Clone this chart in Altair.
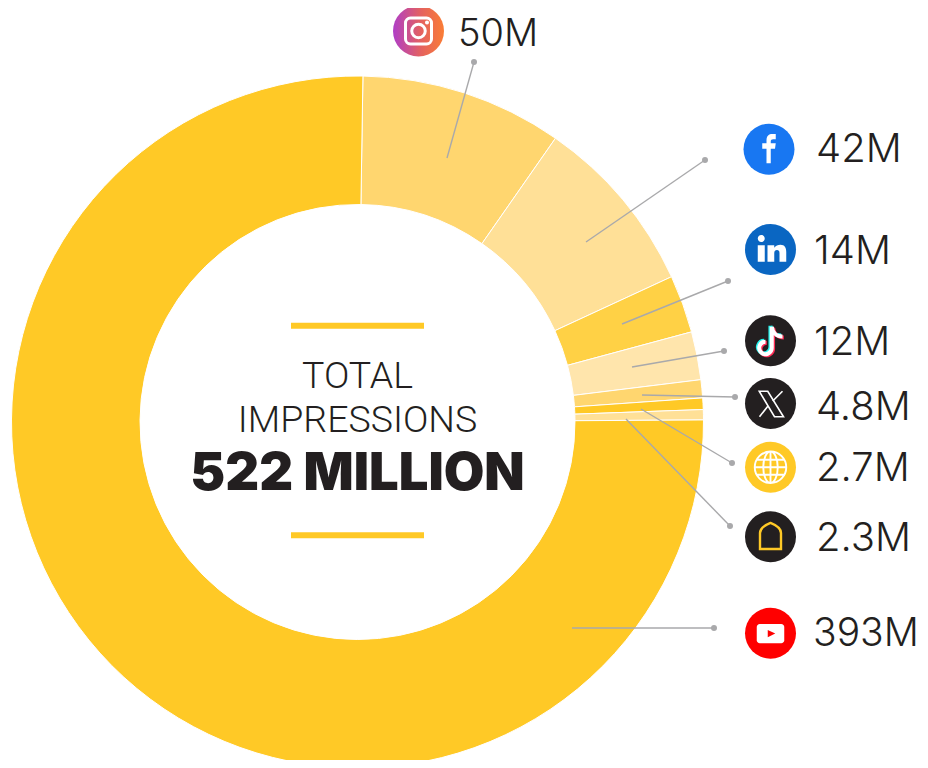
import math
import altair as alt
import pandas as pd

# ---- slices (clockwise from top) ----
platforms = ["Instagram", "Facebook", "LinkedIn", "TikTok", "X", "Web", "Other", "YouTube"]
arc_values = [49.3, 43.9, 14.1, 11.7, 4.4, 2.8, 2.5, 393.3]
slice_colors = ["#FFD66F", "#FFE097", "#FFD145", "#FFE5AC", "#FFD66F", "#FFC926", "#FFE097", "#FFC926"]
labels = ["50M", "42M", "14M", "12M", "4.8M", "2.7M", "2.3M", "393M"]

# ---- layout, in page pixels ----
center_x, center_y = 357.5, 422.0
outer_r, inner_r = 346, 217.5
start_deg = 0.9

line_x1 = [447, 586, 622, 632, 642, 641, 626, 572]
line_y1 = [158, 242, 324, 367, 395, 409, 419, 628]
line_x2 = [474, 705, 728, 724, 735, 732, 730, 714]
line_y2 = [62, 160, 281, 351, 397, 463, 526, 628]

label_x = [458, 816, 814, 814, 816, 816, 816, 813]
label_y = [46, 162, 264, 355, 420, 481, 551, 646]
label_size = [38, 40, 40, 40, 40, 40, 40, 39]

icon_x = [418.5, 769, 770.5, 770.5, 770.5, 770.5, 770.5, 770.5]
icon_y = [31, 149.3, 249.5, 340.7, 403.5, 467.3, 536.7, 633.3]
icon_colors = ["#D9597A", "#1877F2", "#0A66C2", "#231F20", "#231F20", "#FFC926", "#231F20", "#FF0000"]

center_lines = ["TOTAL", "IMPRESSIONS"]
center_line_y = [388, 432]
headline = "522 MILLION"
headline_y = 490
bar_y = [322.7, 532.3]
bar_x = (291, 424)

W, H = 912, 752
XS = alt.Scale(domain=[8, 920], range=[0, W], nice=False, zero=False)
YS = alt.Scale(domain=[8, 760], range=[0, H], nice=False, zero=False)
X = lambda f: alt.X(f, type="quantitative", scale=XS, axis=None)
Y = lambda f: alt.Y(f, type="quantitative", scale=YS, axis=None)

slices = pd.DataFrame({"i": range(8), "p": platforms, "v": arc_values, "c": slice_colors,
                       "cx": center_x, "cy": center_y})
s0 = math.radians(start_deg)
donut = alt.Chart(slices).mark_arc(outerRadius=outer_r, innerRadius=inner_r, stroke="#FFFFFF", strokeWidth=1).encode(
    theta=alt.Theta("v:Q", stack=True, scale=alt.Scale(domain=[0, sum(arc_values)], range=[s0, s0 + 2 * math.pi])),
    order=alt.Order("i:Q"),
    color=alt.Color("c:N", scale=None),
    x=X("cx"), y=Y("cy"),
)

leaders_df = pd.DataFrame({"x": line_x1, "y": line_y1, "x2": line_x2, "y2": line_y2})
leaders = alt.Chart(leaders_df).mark_rule(color="#A9A9AB", strokeWidth=1.4).encode(
    x=X("x"), y=Y("y"), x2="x2:Q", y2="y2:Q")
dots = alt.Chart(leaders_df).mark_circle(color="#A9A9AB", opacity=1, size=36).encode(x=X("x2"), y=Y("y2"))

label_df = pd.DataFrame({"x": label_x, "y": label_y, "t": labels, "s": label_size})
label_txt = alt.Chart(label_df).mark_text(font="Inter", fontWeight=300, align="left",
                                          baseline="alphabetic", color="#231F20").encode(
    x=X("x"), y=Y("y"), text="t:N", size=alt.Size("s:Q", scale=None))

disc_df = pd.DataFrame({"x": icon_x, "y": icon_y, "c": icon_colors})
discs = alt.Chart(disc_df[1:]).mark_circle(opacity=1, size=51 ** 2).encode(
    x=X("x"), y=Y("y"), color=alt.Color("c:N", scale=None))
ig_disc = alt.Chart(disc_df[:1]).mark_circle(
    opacity=1, size=51 ** 2,
    color=alt.Gradient(gradient="linear", x1=0, x2=1, y1=0, y2=0,
                       stops=[alt.GradientStop(color="#B13FC4", offset=0.02),
                              alt.GradientStop(color="#E4625F", offset=0.55),
                              alt.GradientStop(color="#FA7D35", offset=1)])
).encode(x=X("x"), y=Y("y"))

# glyph outlines: unit coordinates, 1 = icon radius
def glyph(k, path, fill=None, stroke=None, sw=0):
    size = 50.0 ** 2
    kw = dict(shape=path, size=size, opacity=1)
    if fill:
        kw.update(filled=True, fill=fill, strokeWidth=0)
    else:
        kw.update(filled=False, stroke=stroke, strokeWidth=sw, fillOpacity=0)
    df = pd.DataFrame({"x": [icon_x[k]], "y": [icon_y[k]]})
    return alt.Chart(df).mark_point(**kw).encode(x=X("x"), y=Y("y"))

WHITE = "#FFFFFF"
NOTE = "M0.05,-0.56 V0.28 A0.25,0.25 0 1 1 -0.2,0.04 M0.05,-0.56 C0.08,-0.33 0.25,-0.17 0.48,-0.17"
glyphs = [
    glyph(0, "M-0.32,-0.52 H0.32 A0.2,0.2 0 0 1 0.52,-0.32 V0.32 A0.2,0.2 0 0 1 0.32,0.52 H-0.32 A0.2,0.2 0 0 1 -0.52,0.32 V-0.32 A0.2,0.2 0 0 1 -0.32,-0.52 Z", stroke=WHITE, sw=3),
    glyph(0, "M-0.27,0 A0.27,0.27 0 1 1 0.27,0 A0.27,0.27 0 1 1 -0.27,0 Z", stroke=WHITE, sw=3),
    glyph(0, "M0.26,-0.34 A0.08,0.08 0 1 1 0.42,-0.34 A0.08,0.08 0 1 1 0.26,-0.34 Z", fill=WHITE),
    glyph(1, "M-0.1,0.56 V-0.02 H-0.27 V-0.24 H-0.1 V-0.36 C-0.1,-0.54 0,-0.61 0.13,-0.61 H0.27 V-0.4 H0.17 C0.1,-0.4 0.07,-0.37 0.07,-0.31 V-0.24 H0.27 L0.24,-0.02 H0.07 V0.56 Z", fill=WHITE),
    glyph(2, "M-0.51,-0.44 A0.14,0.14 0 1 1 -0.23,-0.44 A0.14,0.14 0 1 1 -0.51,-0.44 Z M-0.51,-0.17 H-0.23 V0.49 H-0.51 Z", fill=WHITE),
    glyph(2, "M-0.12,-0.17 H0.15 V-0.07 C0.2,-0.14 0.3,-0.19 0.4,-0.19 C0.56,-0.19 0.63,-0.08 0.63,0.1 V0.49 H0.36 V0.14 C0.36,0.05 0.32,0.02 0.26,0.02 C0.19,0.02 0.15,0.07 0.15,0.14 V0.49 H-0.12 Z", fill=WHITE),
    glyph(4, "M-0.45,-0.49 L-0.11,-0.49 L0.52,0.53 L0.16,0.53 Z", stroke=WHITE, sw=1.6),
    glyph(4, "M0.48,-0.49 L0.09,-0.1 M-0.1,0.1 L-0.44,0.53", stroke=WHITE, sw=1.6),
    glyph(5, "M-0.63,0 A0.63,0.63 0 1 1 0.63,0 A0.63,0.63 0 1 1 -0.63,0 Z M-0.29,0 A0.29,0.63 0 1 1 0.29,0 A0.29,0.63 0 1 1 -0.29,0 Z M0,-0.63 V0.63 M-0.63,0 H0.63 M-0.55,-0.3 H0.55 M-0.55,0.3 H0.55", stroke=WHITE, sw=1.9),
    glyph(6, "M-0.42,0.49 V-0.15 C-0.42,-0.35 -0.2,-0.47 0,-0.55 C0.2,-0.47 0.42,-0.35 0.42,-0.15 V0.49 Z", stroke="#FFC926", sw=2.4),
    glyph(7, "M-0.43,-0.37 H0.43 A0.12,0.12 0 0 1 0.55,-0.25 V0.28 A0.12,0.12 0 0 1 0.43,0.4 H-0.43 A0.12,0.12 0 0 1 -0.55,0.28 V-0.25 A0.12,0.12 0 0 1 -0.43,-0.37 Z", fill=WHITE),
    glyph(7, "M-0.11,-0.13 L0.19,0.01 L-0.11,0.16 Z", fill="#FF0000"),
]
# TikTok note: cyan and pink copies behind a white one
def note(dx, dy, col):
    df = pd.DataFrame({"x": [icon_x[3] + dx], "y": [icon_y[3] + dy]})
    return alt.Chart(df).mark_point(shape=NOTE, size=2500, filled=False, stroke=col, strokeWidth=4,
                                    fillOpacity=0, opacity=1).encode(x=X("x"), y=Y("y"))
tiktok = [note(-1.3, -0.9, "#25F4EE"), note(1.3, 1.0, "#FE2C55"), note(0, 0, WHITE)]

bars_df = pd.DataFrame({"x": bar_x[0], "x2": bar_x[1], "y": bar_y, "y2": [v + 6 for v in bar_y]})
bars = alt.Chart(bars_df).mark_rect(color="#FFC926").encode(x=X("x"), x2="x2:Q", y=Y("y"), y2="y2:Q")

center_df = pd.DataFrame({"x": center_x, "y": center_line_y, "t": center_lines})
center_txt = alt.Chart(center_df).mark_text(font="Roboto", fontWeight=300, fontSize=37.5, align="center",
                                            baseline="alphabetic", color="#231F20").encode(
    x=X("x"), y=Y("y"), text="t:N")
head_df = pd.DataFrame({"x": [center_x], "y": [headline_y], "t": [headline]})
head_txt = alt.Chart(head_df).mark_text(font="Inter", fontWeight=900, fontSize=52.5, align="center",
                                        baseline="alphabetic", color="#231F20").encode(
    x=X("x"), y=Y("y"), text="t:N")

chart = alt.layer(donut, leaders, dots, discs, ig_disc, *glyphs, *tiktok, label_txt, bars, center_txt, head_txt).properties(
    width=W, height=H, padding=0, background="#FFFFFF", autosize=alt.AutoSizeParams(type="none")
).configure_view(stroke=None)

chart.save("out.html", embed_options={"renderer": "svg", "actions": False})
